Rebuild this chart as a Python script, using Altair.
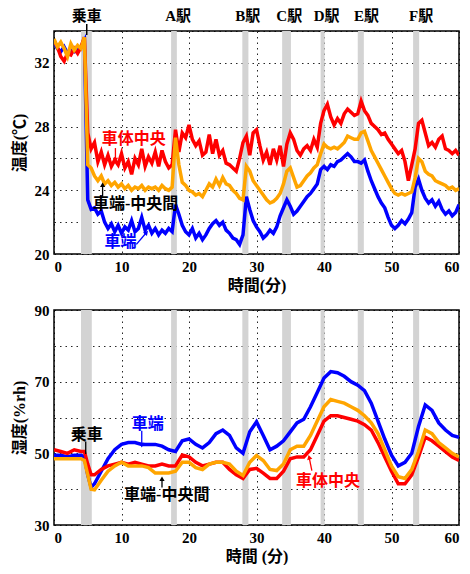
import altair as alt
import pandas as pd

FONT = "Liberation Serif, Noto Sans CJK JP"
RED = "#ff0000"
ORANGE = "#ffa500"
BLUE = "#0000ff"

# ---------------- temperature (top) ----------------
TEMP_TIME = [i * 0.5 for i in range(121)]
TEMP_CENTER = [
    33.4, 33.0, 32.4, 32.1, 32.6, 32.5, 32.9, 32.6, 33.0, 33.6,
    27.6, 26.6, 27.0, 25.8, 26.4, 25.6, 26.2, 25.5, 25.9, 25.6,
    26.3, 25.4, 25.8, 25.0, 26.0, 25.6, 26.6, 25.5, 26.1, 25.7,
    26.4, 25.5, 26.5, 25.8, 25.4, 25.6, 27.8, 26.4, 27.6, 27.3,
    28.1, 27.2, 26.8, 27.1, 26.2, 26.4, 27.5, 26.3, 27.2, 26.2,
    26.5, 25.7, 25.6, 25.4, 25.2, 26.0, 27.0, 27.4, 26.2, 27.6,
    27.8, 26.8, 25.9, 26.4, 25.6, 26.6, 25.9, 26.8, 25.5, 26.9,
    27.6, 27.2, 26.5, 26.2, 26.6, 26.8, 26.5, 27.2, 26.7, 28.2,
    29.0, 29.4, 28.6, 28.1, 28.5, 28.2, 28.8, 29.1, 28.9, 28.7,
    28.8, 29.6, 29.0, 28.7, 28.2, 28.0, 27.8, 27.5, 27.6, 27.2,
    26.9, 26.6, 26.3, 26.5, 25.8, 24.6, 25.6, 26.6, 28.2, 28.4,
    27.6, 26.8, 27.0, 26.7, 27.2, 27.4, 26.6, 26.5, 26.3, 26.5,
    26.2,
]
TEMP_MID = [
    33.5, 33.0, 33.3, 32.9, 32.4, 33.2, 32.8, 33.1, 32.9, 33.6,
    25.6, 25.4, 24.9, 24.6, 24.9, 24.4, 24.6, 24.3, 24.5, 24.2,
    24.4, 24.1, 24.3, 24.0, 24.2, 24.1, 24.3, 24.0, 24.2, 24.1,
    24.2, 24.0, 24.3, 24.1, 24.0, 24.2, 27.3, 25.6, 24.5, 24.3,
    24.0, 23.9, 23.7, 23.8, 23.6, 24.0, 24.4, 24.2, 24.7, 24.3,
    24.8, 24.4, 24.3, 24.0, 23.8, 23.5, 23.4, 25.5, 25.2, 24.6,
    24.3, 24.0, 23.7, 23.4, 23.2, 23.3, 23.5, 23.8, 24.4, 25.2,
    25.4, 24.8, 24.2, 24.3, 24.6, 24.9, 25.1, 25.4, 25.6, 26.3,
    26.9, 26.7, 26.6, 26.7, 26.6, 26.8, 27.0, 27.4, 27.3, 27.2,
    27.2, 27.6, 27.7, 27.1, 26.5, 26.1, 25.7, 25.3, 24.9, 24.5,
    24.1, 23.8, 23.7, 23.8, 23.7, 23.8, 23.9, 24.8, 26.0, 25.8,
    25.2, 25.0, 24.9, 24.6, 24.5, 24.4, 24.3, 24.1, 24.2, 24.0,
    24.1,
]
TEMP_END = [
    33.3, 32.9, 32.7, 33.0, 32.6, 32.8, 32.7, 32.9, 33.0, 33.4,
    23.4, 22.8, 22.9, 22.5, 22.7, 22.0, 21.6, 21.9, 21.4, 21.8,
    21.3, 21.7, 21.5, 22.1, 21.4, 21.6, 22.3, 21.5, 21.8, 21.3,
    21.6, 21.2, 21.5, 21.3, 21.6, 21.4, 23.1, 22.5, 21.8, 21.4,
    21.2, 21.6, 21.0, 21.3, 20.9, 21.2, 21.6, 21.9, 22.1, 21.8,
    22.0, 21.5, 21.3, 21.0, 20.9, 20.6, 21.2, 23.6, 22.8, 22.1,
    21.7, 21.4, 21.0, 21.2, 21.5, 21.3, 21.7, 22.4, 22.9, 23.4,
    23.0, 22.5, 22.7, 23.0, 23.3, 23.6, 23.8, 24.1, 24.4, 25.3,
    25.5, 25.3, 25.6, 25.5, 25.8, 25.9, 26.1, 26.3, 26.1, 25.8,
    25.8, 25.7, 25.9, 25.2, 24.6, 24.1, 23.6, 23.2, 22.9, 22.3,
    21.8, 21.6, 21.8, 22.1, 21.9, 22.2, 22.6, 24.2, 24.7, 24.0,
    23.5, 23.2, 23.4, 23.0, 23.3, 22.8, 22.5, 22.7, 22.4, 22.6,
    23.1,
]

# ---------------- humidity (bottom) ----------------
HUM_TIME = [0, 1, 2, 3, 4, 4.5, 5, 5.5, 6, 7, 8, 9, 10, 11, 12, 13, 14, 15,
            16, 17, 18, 19, 20, 21, 22, 23, 24, 25, 26, 27, 28, 29, 30, 31,
            32, 33, 34, 35, 36, 37, 38, 39, 40, 41, 42, 43, 44, 45, 46, 47,
            48, 49, 50, 51, 52, 53, 54, 55, 56, 57, 58, 59, 60]
HUM_END = [49.5, 49.5, 49.0, 49.5, 49.5, 49.0, 44.0, 40.5, 41.5, 45.0, 48.5,
           51.0, 52.5, 53.0, 53.0, 52.5, 52.5, 52.5, 52.0, 51.0, 50.5, 53.5,
           54.0, 52.5, 51.5, 53.0, 55.5, 56.5, 55.0, 51.5, 50.0, 56.0, 58.8,
           55.0, 51.0, 52.0, 53.5, 56.0, 58.5, 59.5, 63.0, 67.0, 71.0, 72.8,
           72.5, 71.5, 70.0, 69.0, 67.5, 64.0, 59.0, 54.0, 49.5, 46.5, 47.5,
           50.0, 57.5, 63.5, 62.0, 58.5, 56.5, 55.0, 54.5]
HUM_CENTER = [51.0, 50.5, 50.0, 51.0, 50.5, 50.5, 47.0, 44.0, 44.0, 45.5,
              46.5, 47.0, 47.5, 47.0, 47.5, 47.0, 46.5, 46.5, 47.0, 46.5,
              46.5, 49.5, 49.0, 47.5, 46.5, 47.0, 47.5, 47.5, 45.5, 44.0,
              43.0, 45.5, 45.8, 44.5, 43.0, 43.0, 45.0, 48.5, 49.0, 49.0,
              51.0, 55.0, 59.0, 60.5, 60.5, 60.0, 59.5, 59.0, 58.0, 56.5,
              53.0, 49.0, 45.0, 41.5, 41.5, 44.0, 49.0, 54.5, 53.5, 52.0,
              50.5, 49.0, 48.0]
HUM_MID = [48.5, 48.5, 48.5, 48.5, 48.5, 48.0, 44.0, 40.0, 39.8, 42.5,
           45.0, 46.5, 47.5, 46.5, 46.5, 46.5, 46.0, 44.5, 44.5, 44.5,
           45.0, 47.5, 47.5, 46.0, 45.5, 47.0, 47.5, 47.5, 47.0, 45.0,
           43.8, 47.5, 49.4, 48.0, 45.5, 45.2, 47.0, 51.0, 52.0, 52.0,
           55.0, 59.0, 63.0, 65.0, 64.5, 64.0, 63.0, 62.0, 60.5, 58.5,
           55.5, 51.0, 46.5, 43.5, 43.0, 45.5, 50.5, 56.5, 55.5, 53.0,
           51.5, 50.0, 49.0]

# ---------------- stations ----------------
STATION_NAMES = ["乗車", "A駅", "B駅", "C駅", "D駅", "E駅", "F駅"]
STATION_LABEL_X = [4.85, 18.4, 28.7, 34.85, 40.4, 46.3, 54.4]
BAND_START = [4.0, 17.35, 27.9, 33.8, 39.5, 45.0, 53.2]
BAND_END = [5.6, 18.2, 28.8, 35.1, 40.1, 45.9, 54.1]

# ---------------- annotations ----------------
TOP_TEXT = ["車体中央", "車端‐中央間", "車端"]
TOP_TEXT_X = [11.8, 12.1, 9.85]
TOP_TEXT_Y = [27.2, 23.15, 20.75]
TOP_TEXT_COLOR = [RED, "black", BLUE]
TOP_ARROW_X = [9.1, 7.2, 12.2]
TOP_ARROW_Y = [26.65, 23.6, 20.6]
TOP_ARROW_X2 = [9.1, 7.2, 13.7]
TOP_ARROW_Y2 = [25.9, 24.35, 21.35]
TOP_ARROW_ANGLE = [180, 0, 42]

BOT_TEXT = ["乗車", "車端", "車端‐中央間", "車体中央"]
BOT_TEXT_X = [4.85, 13.9, 16.7, 40.6]
BOT_TEXT_Y = [55.2, 58.2, 38.3, 42.4]
BOT_TEXT_COLOR = ["black", BLUE, "black", RED]
BOT_ARROW_X = [13.0, 16.0, 38.2]
BOT_ARROW_Y = [56.3, 40.5, 45.2]
BOT_ARROW_X2 = [13.0, 16.0, 37.8]
BOT_ARROW_Y2 = [52.3, 42.9, 48.9]
BOT_ARROW_ANGLE = [180, 0, 345]
BOT_LINE_X = [4.7]
BOT_LINE_Y = [53.3]
BOT_LINE_Y2 = [49.8]

X_VALUES = [0, 10, 20, 30, 40, 50, 60]


def long_df(time, center, mid, end):
    rows = []
    for name, vals in (("end", end), ("center", center), ("mid", mid)):
        for t, v in zip(time, vals):
            rows.append({"t": t, "v": v, "s": name})
    return pd.DataFrame(rows)


def make_panel(time, center, mid, end, ydom, yvals, label_expr, ytitle, xtitle,
               texts, ann_arrows, width, height, top_labels, extra_lines):
    xs = alt.Scale(domain=[0, 60], nice=False, zero=False)
    ys = alt.Scale(domain=ydom, nice=False, zero=False)
    xax = alt.Axis(values=X_VALUES, title=xtitle, labelFlush=4,
                   labelPadding=5, titlePadding=3, labelOverlap=False)
    yax = alt.Axis(values=yvals, title=ytitle, labelExpr=label_expr,
                   labelFlush=False, labelPadding=5, titlePadding=7,
                   labelOverlap=False)
    X = alt.X("t:Q", scale=xs, axis=xax)
    Y = alt.Y("v:Q", scale=ys, axis=yax)

    bands_df = pd.DataFrame({"t": BAND_START, "t2": BAND_END})
    bands = alt.Chart(bands_df).mark_rect(color="#d3d3d3").encode(
        x=X, x2="t2:Q", y=alt.value(0), y2=alt.value(height))

    df = long_df(time, center, mid, end)
    layers = [bands]
    for name, col in (("end", BLUE), ("center", RED), ("mid", ORANGE)):
        layers.append(
            alt.Chart(df).transform_filter(alt.datum.s == name)
            .mark_line(color=col, strokeWidth=3.5, clip=True)
            .encode(x=X, y=Y))

    tx, ty, tt, tc = texts
    tdf = pd.DataFrame({"t": tx, "v": ty, "txt": tt, "c": tc})
    layers.append(
        alt.Chart(tdf).mark_text(font=FONT, fontSize=16, fontWeight="bold",
                                 baseline="middle", align="center")
        .encode(x=X, y=Y, text="txt:N", color=alt.Color("c:N", scale=None)))

    ax, ay, ax2, ay2, ang, acol = ann_arrows
    adf = pd.DataFrame({"t": ax, "v": ay, "t2": ax2, "v2": ay2, "c": acol})
    layers.append(
        alt.Chart(adf).mark_rule(strokeWidth=1.3)
        .encode(x=X, y=Y, x2="t2:Q", y2="v2:Q", color=alt.Color("c:N", scale=None)))
    hdf = pd.DataFrame({"t": ax2, "v": ay2, "a": ang, "c": acol})
    layers.append(
        alt.Chart(hdf).mark_point(shape="triangle-up", filled=True, size=28, opacity=1)
        .encode(x=X, y=Y, angle=alt.Angle("a:Q", scale=None),
                color=alt.Color("c:N", scale=None)))

    if extra_lines is not None:
        lx, ly, ly2 = extra_lines
        ldf = pd.DataFrame({"t": lx, "v": ly, "v2": ly2})
        layers.append(
            alt.Chart(ldf).mark_rule(strokeWidth=1.3, color="black")
            .encode(x=X, y=Y, y2="v2:Q"))

    if top_labels:
        sdf = pd.DataFrame({"t": STATION_LABEL_X, "txt": STATION_NAMES})
        layers.append(
            alt.Chart(sdf).mark_text(font=FONT, fontSize=15, fontWeight="bold",
                                     baseline="middle", align="center", color="black")
            .encode(x=X, y=alt.value(-15), text="txt:N"))
        kdf = pd.DataFrame({"t": [STATION_LABEL_X[0]]})
        layers.append(
            alt.Chart(kdf).mark_rule(strokeWidth=1.5, color="black")
            .encode(x=X, y=alt.value(-7), y2=alt.value(4)))

    return alt.layer(*layers).properties(width=width, height=height)


top = make_panel(
    TEMP_TIME, TEMP_CENTER, TEMP_MID, TEMP_END,
    [20, 34], [20, 22, 24, 26, 28, 30, 32, 34],
    "datum.value % 4 == 0 && datum.value < 34 ? datum.label : ''",
    "温度(℃)", "時間(分)",
    (TOP_TEXT_X, TOP_TEXT_Y, TOP_TEXT, TOP_TEXT_COLOR),
    (TOP_ARROW_X, TOP_ARROW_Y, TOP_ARROW_X2, TOP_ARROW_Y2, TOP_ARROW_ANGLE,
     [RED, "black", BLUE]),
    405, 223, True, None)

bottom = make_panel(
    HUM_TIME, HUM_CENTER, HUM_MID, HUM_END,
    [30, 90], [30, 40, 50, 60, 70, 80, 90],
    "(datum.value - 30) % 20 == 0 ? datum.label : ''",
    "湿度(%rh)", "時間 (分)",
    (BOT_TEXT_X, BOT_TEXT_Y, BOT_TEXT, BOT_TEXT_COLOR),
    (BOT_ARROW_X, BOT_ARROW_Y, BOT_ARROW_X2, BOT_ARROW_Y2, BOT_ARROW_ANGLE,
     [BLUE, "black", RED]),
    405, 215, False, (BOT_LINE_X, BOT_LINE_Y, BOT_LINE_Y2))

chart = alt.vconcat(top, bottom, spacing=8).properties(
    padding={"left": 2, "top": 0, "right": 0, "bottom": 0},
    background="white",
).configure_view(
    stroke="black", strokeWidth=1.5
).configure_axis(
    grid=True, gridColor="black", gridDash=[1.5, 4], gridOpacity=0.85,
    gridWidth=1, domain=False, tickSize=0,
    labelFont=FONT, labelFontSize=15, labelFontWeight="bold", labelColor="black",
    titleFont=FONT, titleFontSize=16, titleFontWeight="bold", titleColor="black",
)

chart.save("out.html", embed_options={"renderer": "svg", "actions": False})
